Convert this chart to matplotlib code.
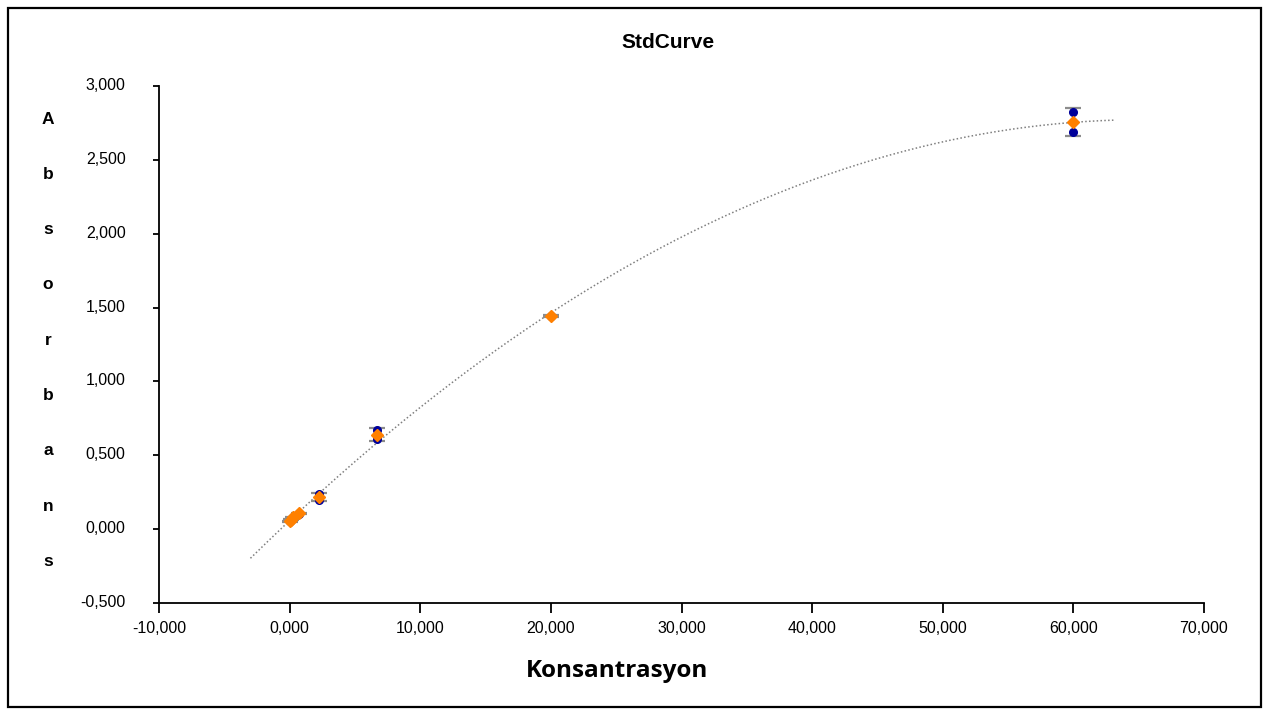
import numpy as np
import matplotlib
matplotlib.use("Agg")
import matplotlib.pyplot as plt
import matplotlib.transforms as mtransforms
from matplotlib.ticker import FuncFormatter

# ---- data ----
concentration = [60000.0, 20000.0, 6666.7, 2222.2, 740.7, 246.9, 82.3, 27.4]
replicate_1 = [2.822, 1.446, 0.671, 0.238, 0.110, 0.082, 0.066, 0.056]
replicate_2 = [2.689, 1.440, 0.610, 0.197, 0.104, 0.078, 0.062, 0.052]
title = "StdCurve"
x_label = "Konsantrasyon"
y_label = "Absorbans"
x_ticks = [-10000, 0, 10000, 20000, 30000, 40000, 50000, 60000, 70000]
y_ticks = [-0.5, 0.0, 0.5, 1.0, 1.5, 2.0, 2.5, 3.0]

x = np.array(concentration)
reps = np.vstack([replicate_1, replicate_2])
mean = reps.mean(axis=0)
sd = reps.std(axis=0, ddof=1)

coef = np.polyfit(x, mean, 2)
xfit = np.linspace(-3000, 63200, 400)
yfit = np.polyval(coef, xfit)

fig = plt.figure(figsize=(12.69, 7.15), dpi=100)
ax = fig.add_axes([159/1269, 1-603/715, (1204-159)/1269, (603-86)/715])

ax.plot(xfit, yfit, color="#7f7f7f", lw=1.1, ls=(0, (1, 1.5)), zorder=1)
ax.errorbar(x, mean, yerr=sd, fmt="none", ecolor="#8c8c8c", elinewidth=1.5,
            capsize=6, capthick=1.6, zorder=2)
for r in reps:
    ax.plot(x, r, "o", color="#000099", ms=5.5, mec="#000099", zorder=3, ls="none")
ax.plot(x, mean, "D", color="#FF8000", ms=6.5, mec="#FF8000", zorder=4, ls="none")

ax.set_xlim(-10000, 70000)
ax.set_ylim(-0.5, 3.0)
ax.set_xticks(x_ticks)
ax.set_yticks(y_ticks)

ax.xaxis.set_major_formatter(FuncFormatter(lambda v, p: f"{v/1000:.3f}".replace(".", ",")))
ax.yaxis.set_major_formatter(FuncFormatter(lambda v, p: f"{v:.3f}".replace(".", ",")))

for s in ["top", "right"]:
    ax.spines[s].set_visible(False)
for s in ["left", "bottom"]:
    ax.spines[s].set_linewidth(1.3)

ax.tick_params(axis="x", direction="out", length=7, width=1.3, pad=6, labelsize=11.5)
ax.tick_params(axis="y", direction="out", length=4, width=1.3, pad=20, labelsize=11.5)
for lab in ax.get_xticklabels() + ax.get_yticklabels():
    lab.set_fontfamily("Liberation Sans")
offset = mtransforms.ScaledTranslation(0, 2/100, fig.dpi_scale_trans)
for lab in ax.get_yticklabels():
    lab.set_transform(lab.get_transform() + offset)

fig.text(668/1269, 1-48.3/715, title, ha="center", va="baseline", fontsize=15,
         fontweight="bold", family="Liberation Sans")
fig.text(617/1269, 1-676.7/715, x_label, ha="center", va="baseline", fontsize=17.5,
         fontweight="bold", family="Open Sans")
for i, ch in enumerate(y_label):
    fig.text(48/1269, 1-(119 + i*55.3)/715, ch, ha="center", va="center", fontsize=12.5,
             fontweight="bold", family="Liberation Sans")

border = plt.Rectangle((8/1269, 8/715), 1-16/1269, 1-16/715, transform=fig.transFigure,
                       fill=False, edgecolor="black", lw=1.6)
fig.patches.append(border)

fig.savefig("out.png", dpi=100)
